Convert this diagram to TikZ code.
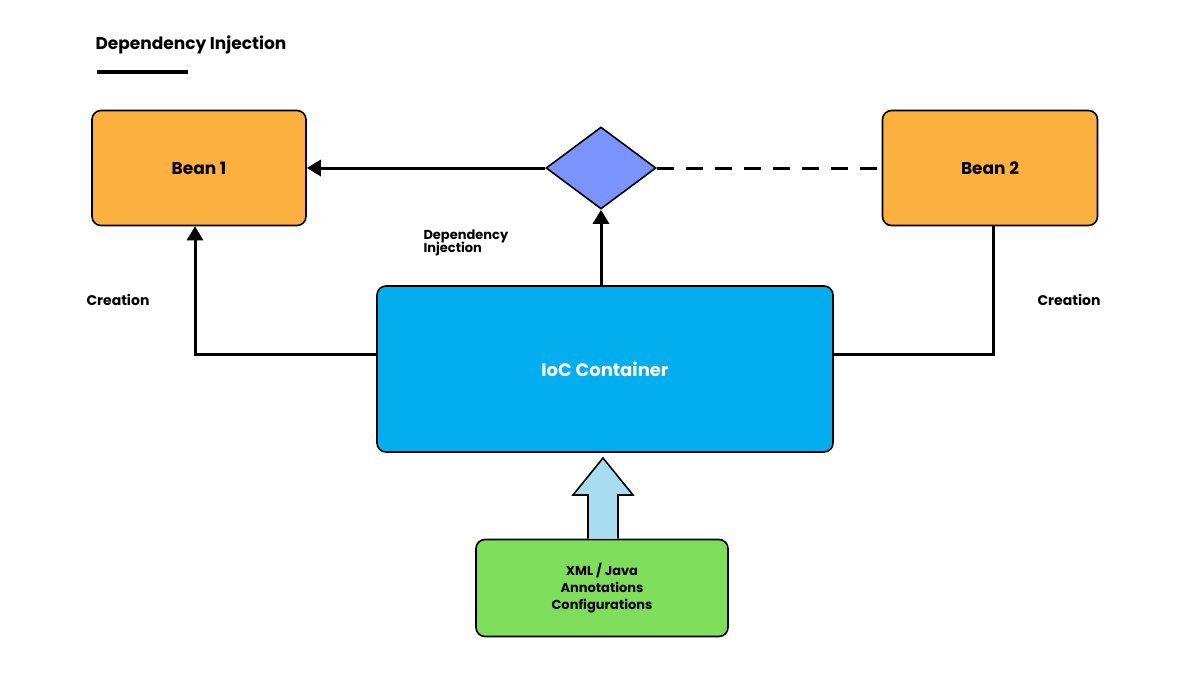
\documentclass[tikz,border=0pt]{standalone}
\usepackage{fontspec}
\setmainfont{Poppins}
\usetikzlibrary{positioning,shapes.geometric,arrows.meta}
\definecolor{beanorange}{RGB}{251,176,64}
\definecolor{iocblue}{RGB}{3,174,239}
\definecolor{diamondblue}{RGB}{123,147,255}
\definecolor{cfggreen}{RGB}{126,221,90}
\definecolor{pushblue}{RGB}{168,221,240}
\tikzset{
  box/.style={draw=black, line width=1.6pt, rounded corners=9pt, font=\bfseries},
  wire/.style={line width=3pt},
  tip/.style={-{Triangle[length=14pt,width=16pt]}},
  lbl/.style={font=\bfseries\fontsize{13}{15}\selectfont, align=left}
}
\begin{document}
\begin{tikzpicture}[x=1pt,y=-1pt]
  \useasboundingbox (0,0) rectangle (1200,675);

  % title
  \node[anchor=west, font=\bfseries\fontsize{17}{20}\selectfont] (title) at (92,45) {Dependency Injection};
  \draw[line width=4pt] (97,72) -- (188,72);

  % boxes
  \node[box, fill=beanorange, minimum width=214pt, minimum height=115pt, font=\bfseries\fontsize{17}{20}\selectfont] (bean1) at (199,168) {Bean 1};
  \node[box, fill=beanorange, minimum width=215pt, minimum height=115pt, font=\bfseries\fontsize{17}{20}\selectfont] (bean2) at (990,168) {Bean 2};
  \node[draw=black, line width=1.6pt, diamond, aspect=1.34, fill=diamondblue, minimum width=110pt, minimum height=82pt, inner sep=0pt] (inject) at (601,168) {};
  \node[box, fill=iocblue, text=white, minimum width=456pt, minimum height=166pt, font=\bfseries\fontsize{18}{22}\selectfont] (ioc) at (605,369) {IoC Container};
  \node[box, fill=cfggreen, minimum width=252pt, minimum height=97pt, align=center, font=\bfseries\fontsize{13}{17}\selectfont] (config) at (602,588) {XML / Java\\Annotations\\Configurations};

  % connectors
  \draw[wire, tip] (inject.west) -- (bean1.east);
  \draw[wire, dash pattern=on 17pt off 12pt] (inject.east) -- (bean2.west);
  \draw[wire, tip] (ioc.north -| inject) -- (inject.south);
  \draw[wire, tip] (ioc.west |- 0,354) -| (bean1.south -| 195,0);
  \draw[wire] (ioc.east |- 0,354) -| (bean2.south -| 993,0);

  % config arrow
  \draw[line width=1.6pt, fill=pushblue] (config.north -| 588,0) -- (588,495) -- (573,495) -- (603,458) -- (633,495) -- (618,495) -- (config.north -| 618,0);

  % labels
  \node[lbl, anchor=west] (dilabel) at (420,243) {Dependency\\[-2pt]Injection};
  \node[lbl, font=\bfseries\fontsize{14}{16}\selectfont] (create1) at (118,300) {Creation};
  \node[lbl, font=\bfseries\fontsize{14}{16}\selectfont] (create2) at (1069,300) {Creation};
\end{tikzpicture}
\end{document}
